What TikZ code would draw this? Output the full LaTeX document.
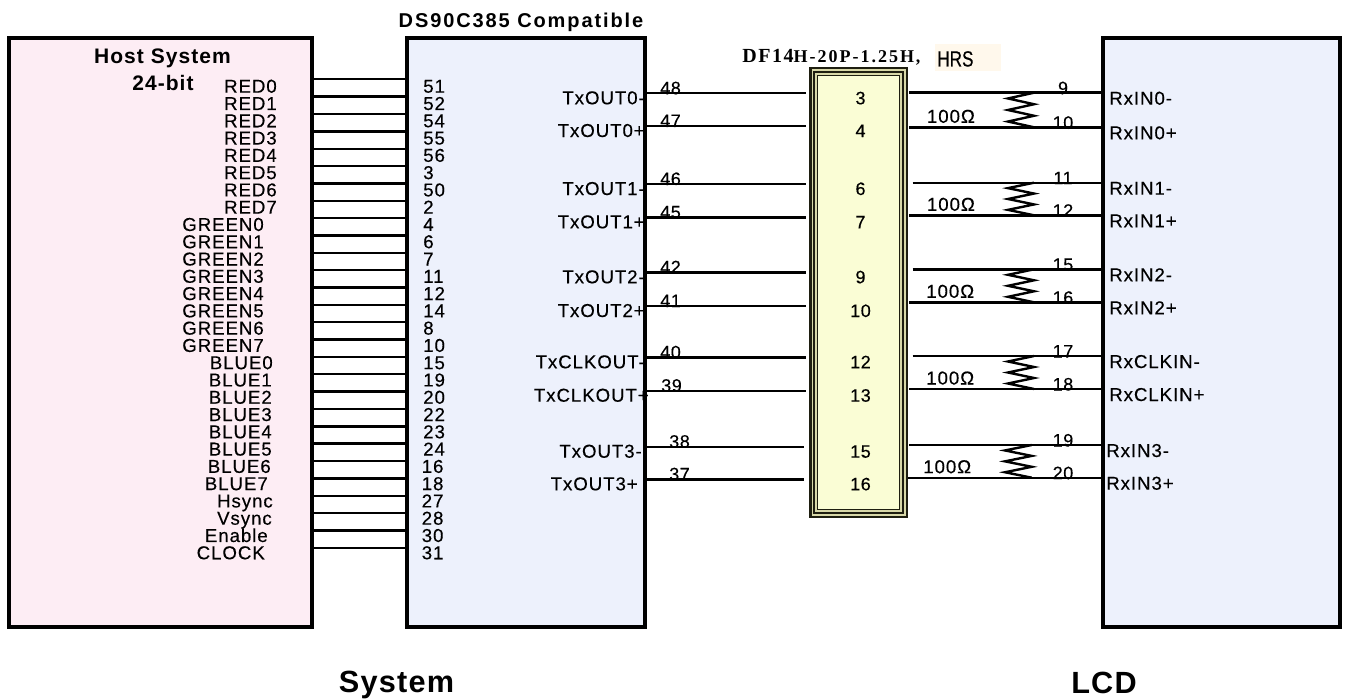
\documentclass[tikz,border=0pt]{standalone}
\usepackage{fontspec}
\usepackage{graphicx}
\setmainfont{Liberation Sans}
\newfontfamily\serifb{Liberation Serif}
\definecolor{hostpink}{HTML}{FDEDF4}
\definecolor{chipblue}{HTML}{EDF1FC}
\definecolor{connyel}{HTML}{FAFDD5}
\definecolor{connkhaki}{HTML}{D8D8A8}
\definecolor{conndark}{HTML}{1E1E10}
\definecolor{hrsbg}{HTML}{FFF8EC}
\newcommand{\lblfont}{\fontsize{14pt}{14pt}\selectfont\addfontfeature{LetterSpace=5,FakeBold=0.3}}
\newcommand{\pinfont}{\fontsize{13.5pt}{13.5pt}\selectfont\addfontfeature{LetterSpace=3,FakeBold=0.3}}
\newcommand{\hdfont}{\bfseries\fontsize{15.75pt}{16pt}\selectfont\addfontfeature{LetterSpace=5}}
\newcommand{\chipfont}{\bfseries\fontsize{15pt}{15pt}\selectfont\addfontfeature{LetterSpace=9.5}}
\newcommand{\bigfont}{\bfseries\fontsize{23pt}{24pt}\selectfont\addfontfeature{LetterSpace=4}}
\begin{document}
\begin{tikzpicture}[x=0.75pt,y=-0.75pt,
  box/.style={draw=black, line width=3pt, inner sep=0pt, outer sep=0pt},
  wire/.style={line width=1.8pt, line cap=butt},
  lblE/.style={font=\lblfont, inner sep=0pt, anchor=base east},
  lblW/.style={font=\lblfont, inner sep=0pt, anchor=base west},
  pinW/.style={font=\pinfont, inner sep=0pt, anchor=base west},
  pinC/.style={font=\pinfont, inner sep=0pt, anchor=base},
  ttl/.style={inner sep=0pt, anchor=base}]
\useasboundingbox (0,0) rectangle (1345,699);

% boxes
\node[box, fill=hostpink, minimum width=303*0.75pt, minimum height=589*0.75pt] (host) at (160.5,332.5) {};
\node[box, fill=chipblue, minimum width=238*0.75pt, minimum height=589*0.75pt] (chip) at (526,332.5) {};
\node[box, fill=chipblue, minimum width=237*0.75pt, minimum height=589*0.75pt] (lcdbox) at (1221.5,332.5) {};

% connector
\node[fill=conndark, inner sep=0pt, outer sep=0pt, minimum width=99*0.75pt, minimum height=451*0.75pt] (conn) at (858.5,292.5) {};
\fill[connkhaki] ([shift={(2.5,2.5)}]conn.north west) rectangle ([shift={(-2.5,-2.5)}]conn.south east);
\fill[conndark] ([shift={(4.2,4.2)}]conn.north west) rectangle ([shift={(-4.2,-4.2)}]conn.south east);
\fill[connkhaki] ([shift={(6.2,6.2)}]conn.north west) rectangle ([shift={(-6.2,-6.2)}]conn.south east);
\fill[conndark] ([shift={(7.6,7.6)}]conn.north west) rectangle ([shift={(-7.6,-7.6)}]conn.south east);
\fill[connyel] ([shift={(9.2,9.2)}]conn.north west) rectangle ([shift={(-9.2,-9.2)}]conn.south east);

% titles
\node[ttl, font=\hdfont] (hosttitle) at (162.5,64) {Host System};
\node[ttl, font=\hdfont] (bits) at (163,90.7) {24-bit};
\node[ttl, font=\chipfont] (chiptitle) at (521,27.3) {DS90C385 Compatible};
\node[ttl, font=\bigfont] (sys) at (396.5,692.5) {System};
\node[ttl, font=\bigfont] (lcd) at (1104,693) {LCD};
\node[fill=hrsbg, inner sep=0pt, minimum width=66*0.75pt, minimum height=27*0.75pt] (hrsbox) at (968,57.5) {};
\node[inner sep=0pt, anchor=base west] (dftitle) at (742,62.5)
  {\serifb\bfseries{\fontsize{15pt}{16pt}\selectfont\addfontfeature{LetterSpace=8}DF14}{\fontsize{13.5pt}{12pt}\selectfont\addfontfeature{LetterSpace=11}H-20P-1.25H,}};
\node[inner sep=0pt, anchor=base west] (hrs) at (937,66.5) {\fontsize{16.5pt}{16pt}\selectfont\addfontfeature{FakeBold=0.3}\scalebox{0.78}[1]{HRS}};

% host signals
\foreach \ii/\lab/\lx/\pn in {0/RED0/277/51, 1/RED1/277/52, 2/RED2/277/54, 3/RED3/277/55,
  4/RED4/277/56, 5/RED5/277/3, 6/RED6/277/50, 7/RED7/277/2,
  8/GREEN0/264/4, 9/GREEN1/264/6, 10/GREEN2/264/7, 11/GREEN3/264/11,
  12/GREEN4/264/12, 13/GREEN5/264/14, 14/GREEN6/264/8, 15/GREEN7/264/10,
  16/BLUE0/273/15, 17/BLUE1/272/19, 18/BLUE2/272/20, 19/BLUE3/272/22,
  20/BLUE4/272/23, 21/BLUE5/272/24, 22/BLUE6/271/16, 23/BLUE7/268/18,
  24/Hsync/273/27, 25/Vsync/272/28, 26/Enable/268/30, 27/CLOCK/265/31}{
  \pgfmathsetmacro\ly{79.3+\ii*17.35}
  \pgfmathsetmacro\by{92.7+\ii*17.28}
  \pgfmathsetmacro\nx{ifthenelse(\ii<22,423,421.5)}
  \coordinate (hs\ii) at (312,\ly);
  \coordinate (ht\ii) at (407,\ly);
  \draw[wire] (hs\ii) -- (ht\ii);
  \node[lblE] (hl\ii) at (\lx,\by) {\lab};
  \node[lblW] (hn\ii) at (\nx,\by) {\pn};
}

% transmitter outputs
\foreach \ii/\lab/\yy/\lx/\pn/\pnx/\cn/\ex in {0/TxOUT0-/93.3/645/48/660/3/806,
  1/TxOUT0+/126/645/47/660/4/806, 2/TxOUT1-/184/645/46/660/6/806,
  3/TxOUT1+/217.3/645/45/660/7/806, 4/TxOUT2-/272.3/645/42/660/9/806,
  5/TxOUT2+/306/645/41/660/10/806, 6/TxCLKOUT-/357.3/645/40/660/12/806,
  7/TxCLKOUT+/390.7/649/39/661/13/806, 8/TxOUT3-/446.7/642/38/669/15/804,
  9/TxOUT3+/479.3/638/37/669/16/804}{
  \coordinate (ta\ii) at (645,\yy);
  \coordinate (tb\ii) at (\ex,\yy);
  \draw[wire] (ta\ii) -- (tb\ii);
  \node[lblE] (tl\ii) at (\lx,\yy+11) {\lab};
  \node[pinW] (tn\ii) at (\pnx,\yy+1) {\pn};
  \node[pinC] (cp\ii) at (860.5,\yy+11) {\cn};
}

% receiver inputs
\foreach \ii/\yy/\sx/\pn/\lab/\lx in {0/92.7/909/9/RxIN0-/1109,
  1/127.3/909/10/RxIN0+/1109, 2/182.7/912.7/11/RxIN1-/1109,
  3/215.3/909/12/RxIN1+/1109, 4/269.3/912.7/15/RxIN2-/1109,
  5/302.3/909/16/RxIN2+/1109, 6/356/912.7/17/RxCLKIN-/1109,
  7/389/909/18/RxCLKIN+/1109, 8/445/909/19/RxIN3-/1106,
  9/477.7/908/20/RxIN3+/1106}{
  \coordinate (ra\ii) at (\sx,\yy);
  \coordinate (rb\ii) at (1103,\yy);
  \draw[wire] (ra\ii) -- (rb\ii);
  \node[pinC] (rn\ii) at (1063,\yy+1.5) {\pn};
  \node[lblW] (rl\ii) at (\lx,\yy+12) {\lab};
}

% termination resistors
\foreach \k/\ya/\yb/\xl/\xr/\lx in {0/92.7/127.3/1008/1034/926.7,
  1/182.7/215.3/1008/1034/926.7, 2/269.3/302.3/1008/1034/926,
  3/356/389/1008/1034/926, 4/445/477.7/1005/1031.7/923}{
  \pgfmathsetmacro\dy{(\yb-\ya)/6}
  \draw[wire, line join=miter] (\xr,\ya) -- (\xl,\ya+\dy) -- (\xr,\ya+2*\dy)
    -- (\xl,\ya+3*\dy) -- (\xr,\ya+4*\dy) -- (\xl,\ya+5*\dy) -- (\xr,\yb);
  \node[lblW] (rv\k) at (\lx,\yb-4.5) {100Ω};
}
\end{tikzpicture}
\end{document}
